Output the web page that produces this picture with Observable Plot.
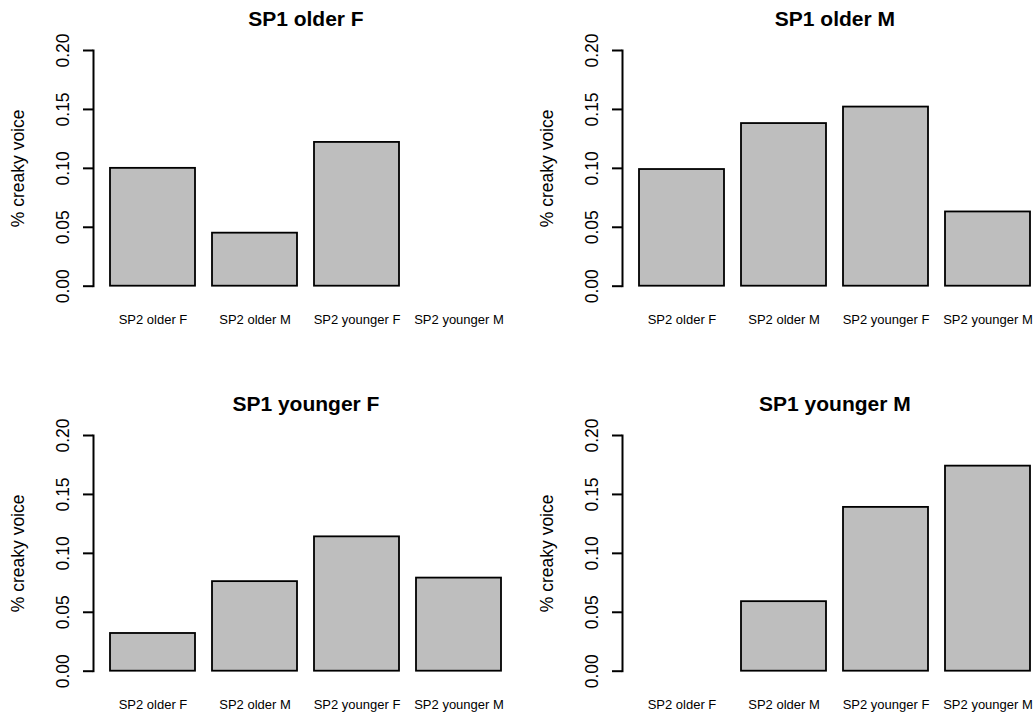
<!DOCTYPE html>
<html><head><meta charset="utf-8">
<script src="https://cdn.jsdelivr.net/npm/d3@7"></script>
<script src="https://cdn.jsdelivr.net/npm/@observablehq/plot@0.6"></script>
<style>
html,body{margin:0;padding:0;background:#fff;overflow:hidden;}
#chart{position:relative;width:1034px;height:714px;overflow:hidden;background:#fff;}
#chart > .panel{position:absolute;width:529px;height:357px;}
#chart > .panel svg{max-width:none !important;}
</style></head><body><div id="chart"></div>
<script>
// Categories (SP2 groups) and panel titles (SP1 groups)
const categories = ["SP2 older F", "SP2 older M", "SP2 younger F", "SP2 younger M"];
const panelTitles = ["SP1 older F", "SP1 older M", "SP1 younger F", "SP1 younger M"];
// Proportion of creaky voice per panel (null = no bar)
const sp1OlderF = [0.100, 0.045, 0.122, null];
const sp1OlderM = [0.099, 0.138, 0.152, 0.063];
const sp1YoungerF = [0.032, 0.076, 0.114, 0.079];
const sp1YoungerM = [null, 0.059, 0.139, 0.174];
const yTicks = [0, 0.05, 0.10, 0.15, 0.20];
const yLabel = "% creaky voice";

const series = [sp1OlderF, sp1OlderM, sp1YoungerF, sp1YoungerM];
const FONT = '"Liberation Sans", Arial, Helvetica, sans-serif';
const W = 529, H = 357, PLOT_H = 235.7;

function panel(title, values, marginTop) {
  const data = categories.map((c, i) => ({cat: c, value: values[i]})).filter(d => d.value != null);
  return Plot.plot({
    width: W, height: H,
    marginLeft: 93, marginRight: 11.2, marginTop, marginBottom: H - marginTop - PLOT_H,
    style: {fontFamily: FONT, background: "white", color: "black", overflow: "visible", maxWidth: "none"},
    x: {domain: categories, paddingInner: 0.2 / 1.2, paddingOuter: 0.1533, label: null},
    y: {domain: [0, 0.2], label: null},
    marks: [
      Plot.barY(data, {x: "cat", y: "value", fill: "#bebebe", stroke: "black", strokeWidth: 1.8}),
      Plot.frame({anchor: "left", strokeWidth: 2}),
      Plot.axisY(yTicks, {tickSize: 10, strokeWidth: 2, tickRotate: -90, tickPadding: 15,
        tickFormat: d3.format(".2f"), fontSize: 17.5, label: null}),
      Plot.axisX({tickSize: 0, tickPadding: 29, fontSize: 13, label: null}),
      Plot.text([yLabel], {frameAnchor: "left", textAnchor: "middle", lineAnchor: "middle",
        rotate: -90, dx: -75, fontSize: 17.5}),
      Plot.text([title], {frameAnchor: "top", textAnchor: "middle", lineAnchor: "middle",
        dy: -31, fontSize: 21, fontWeight: "bold"})
    ]
  });
}

const chart = document.getElementById("chart");
panelTitles.forEach((t, i) => {
  const row = Math.floor(i / 2), col = i % 2;
  const wrap = document.createElement("div");
  wrap.className = "panel";
  wrap.style.left = (col * W) + "px";
  wrap.style.top = (row * H) + "px";
  wrap.appendChild(panel(t, series[i], row === 0 ? 50 : 78));
  chart.appendChild(wrap);
});
</script>
</body></html>
